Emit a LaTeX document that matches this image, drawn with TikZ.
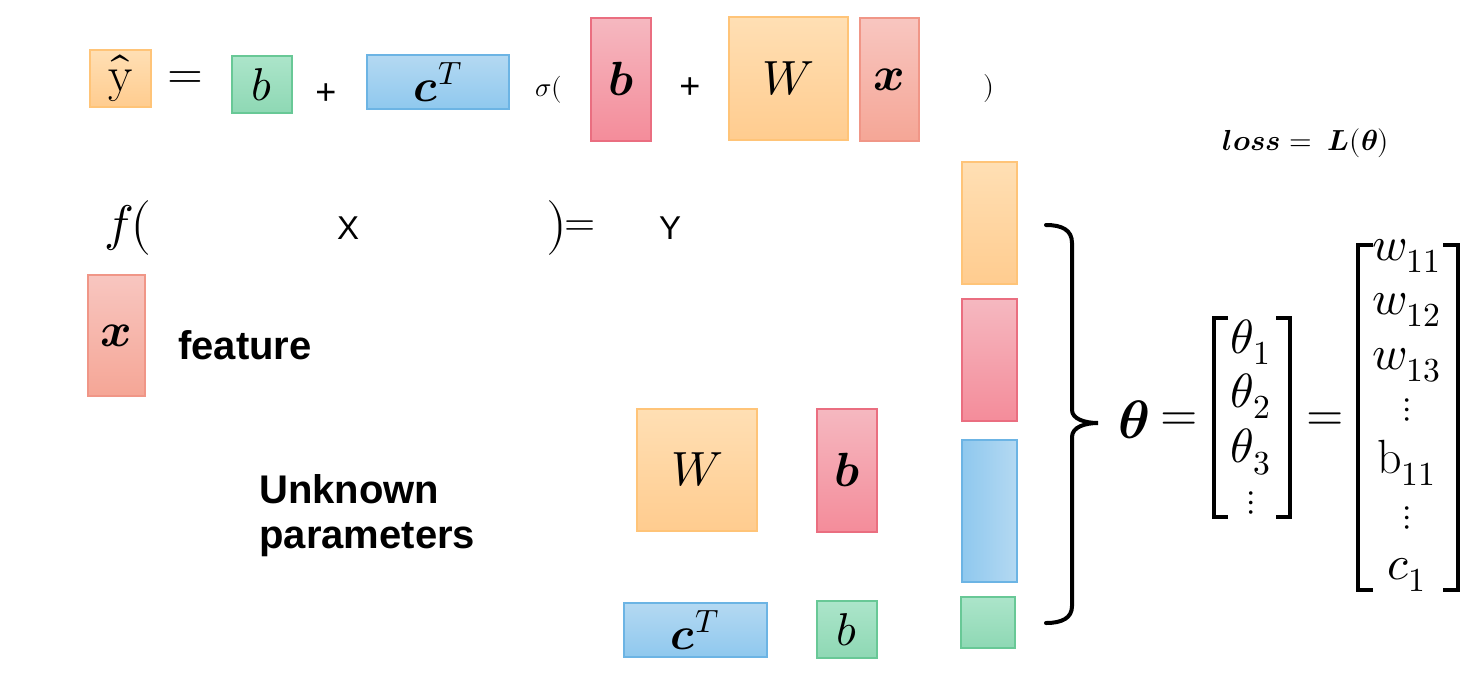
\documentclass[tikz,border=0pt]{standalone}
\usepackage{fontspec}
\usepackage{unicode-math}
\setmathfont{Latin Modern Math}
\newfontfamily\sansf{Liberation Sans}
\newcommand\fsz[1]{\fontsize{#1}{#1}\selectfont}
\definecolor{orT}{RGB}{255,223,180}
\definecolor{orB}{RGB}{255,204,143}
\definecolor{orD}{RGB}{255,196,120}
\definecolor{grT}{RGB}{172,229,202}
\definecolor{grB}{RGB}{142,216,180}
\definecolor{grD}{RGB}{104,200,150}
\definecolor{blT}{RGB}{180,217,242}
\definecolor{blB}{RGB}{143,200,238}
\definecolor{blD}{RGB}{108,180,228}
\definecolor{rdT}{RGB}{245,184,192}
\definecolor{rdB}{RGB}{244,140,154}
\definecolor{rdD}{RGB}{234,110,128}
\definecolor{saT}{RGB}{248,198,192}
\definecolor{saB}{RGB}{245,166,150}
\definecolor{saD}{RGB}{240,150,135}
\begin{document}
\begin{tikzpicture}[x=0.5pt,y=-0.5pt,
  box/.style={draw, line width=0.7pt, inner sep=0pt},
  obox/.style={box, draw=orD, top color=orT, bottom color=orB},
  gbox/.style={box, draw=grD, top color=grT, bottom color=grB},
  bbox/.style={box, draw=blD, top color=blT, bottom color=blB},
  rbox/.style={box, draw=rdD, top color=rdT, bottom color=rdB},
  sbox/.style={box, draw=saD, top color=saT, bottom color=saB},
  lbl/.style={inner sep=0pt},
  dts/.style={inner sep=0pt, font=\fsz{17}},
  brk/.style={line width=1.6pt},
]
\useasboundingbox[fill=white] (0,0) rectangle (1481,675);

% top equation
\node[obox, minimum width=30.5pt, minimum height=28.5pt, font=\fsz{25}] (yhat) at (120.5,78.5) {$\hat{\mathrm{y}}$};
\node[lbl, font=\fsz{23}] (eq1) at (185,80) {$=$};
\node[gbox, minimum width=30pt, minimum height=28.5pt, font=\fsz{23}] (bt) at (262,84.5) {$b$};
\node[lbl, font=\sansf\fsz{18}] (p1) at (326,94) {+};
\node[bbox, minimum width=71pt, minimum height=27pt, font=\fsz{23}] (ct) at (438,82) {$\symbfit{c}^{T}$};
\node[lbl, font=\fsz{13.5}] (sig) at (549,90) {$\sigma($};
\node[rbox, minimum width=30pt, minimum height=61.5pt, font=\fsz{24}] (brt) at (621,79.5) {$\symbfit{b}$};
\node[lbl, font=\sansf\fsz{18}] (p2) at (690,88) {+};
\node[obox, minimum width=59.5pt, minimum height=61.5pt, font=\fsz{24}] (Wt) at (788.5,78.5) {$W$};
\node[sbox, minimum width=29.5pt, minimum height=61.5pt, font=\fsz{24}] (xt) at (889.5,79.5) {$\symbfit{x}$};
\node[lbl, font=\fsz{14}] (rp) at (989,88) {$)$};

% loss
\node[lbl, font=\fsz{14.5}] (loss) at (1306,143) {$\symbfit{loss} =\; \symbfit{L}(\symbfit{\theta})$};

% f(X)=Y
\node[lbl, font=\fsz{25}] (f) at (128,228) {$f\!\!\;\bigl($};
\node[lbl, font=\sansf\fsz{16.5}] (X) at (348,228) {X};
\node[lbl, font=\fsz{25}] (fr) at (557,228) {$\bigr)$};
\node[lbl, font=\fsz{20}] (eq2) at (580,228) {$=$};
\node[lbl, font=\sansf\fsz{16.5}] (Y) at (670,228) {Y};

% feature
\node[sbox, minimum width=28.5pt, minimum height=60.5pt, font=\fsz{24}] (xf) at (116.5,335.5) {$\symbfit{x}$};
\node[lbl, anchor=west, font=\sansf\bfseries\fsz{20}] (feat) at (178,345) {feature};

% unknown parameters
\node[lbl, anchor=west, align=left, font=\sansf\bfseries\fontsize{20}{22.5}\selectfont] (unk) at (259,516) {Unknown\\parameters};
\node[obox, minimum width=60pt, minimum height=61pt, font=\fsz{24}] (Wb) at (697,470) {$W$};
\node[rbox, minimum width=30pt, minimum height=61.5pt, font=\fsz{24}] (brb) at (847,470.5) {$\symbfit{b}$};
\node[bbox, minimum width=71.5pt, minimum height=27pt, font=\fsz{23}] (cb) at (695.5,630) {$\symbfit{c}^{T}$};
\node[gbox, minimum width=30pt, minimum height=28.5pt, font=\fsz{23}] (bgb) at (847,629.5) {$b$};

% column
\node[obox, minimum width=27.5pt, minimum height=61pt] (c1) at (989.5,223) {};
\node[rbox, minimum width=27.5pt, minimum height=61pt] (c2) at (989.5,360) {};
\node[box, draw=blD, left color=blB, right color=blT, minimum width=27.5pt, minimum height=71pt] (c3) at (989.5,511) {};
\node[gbox, minimum width=27pt, minimum height=25.5pt] (c4) at (988,622.5) {};

% brace
\coordinate (brT) at (1046,225);
\coordinate (brTip) at (1098,423);
\coordinate (brB) at (1046,623);
\draw[line width=2pt, line cap=round] (brT) .. controls (1062,225) and (1072,230) .. (1072,243) -- (1072,410) .. controls (1072,419) and (1085,423) .. (brTip) .. controls (1085,423) and (1072,427) .. (1072,437) -- (1072,606) .. controls (1072,618) and (1062,623) .. (brB);

% theta
\node[lbl, font=\fsz{27}] (th) at (1134,420) {$\symbfit{\theta}$};
\node[lbl, font=\fsz{24}] (eq3) at (1179,422) {$=$};
\node[lbl, font=\fsz{24}] (t1) at (1251,342) {$\theta_1$};
\node[lbl, font=\fsz{24}] (t2) at (1251,396) {$\theta_2$};
\node[lbl, font=\fsz{24}] (t3) at (1251,452) {$\theta_3$};
\node[dts] (t4) at (1251,503) {$\vdots$};
\draw[brk] (1228,318) -- (1214,318) -- (1214,517) -- (1228,517);
\draw[brk] (1276,318) -- (1290,318) -- (1290,517) -- (1276,517);
\node[lbl, font=\fsz{24}] (eq4) at (1325,422) {$=$};
\node[lbl, font=\fsz{24}] (w11) at (1407,256) {$w_{11}$};
\node[lbl, font=\fsz{24}] (w12) at (1407,310) {$w_{12}$};
\node[lbl, font=\fsz{24}] (w13) at (1407,365) {$w_{13}$};
\node[dts] (d1) at (1407,410) {$\vdots$};
\node[lbl, font=\fsz{24}] (b11) at (1407,463) {$\mathrm{b}_{11}$};
\node[dts] (d2) at (1407,518) {$\vdots$};
\node[lbl, font=\fsz{24}] (cc1) at (1407,575) {$c_1$};
\draw[brk] (1373,245) -- (1358,245) -- (1358,590) -- (1373,590);
\draw[brk] (1443,245) -- (1458,245) -- (1458,590) -- (1443,590);
\end{tikzpicture}
\end{document}
